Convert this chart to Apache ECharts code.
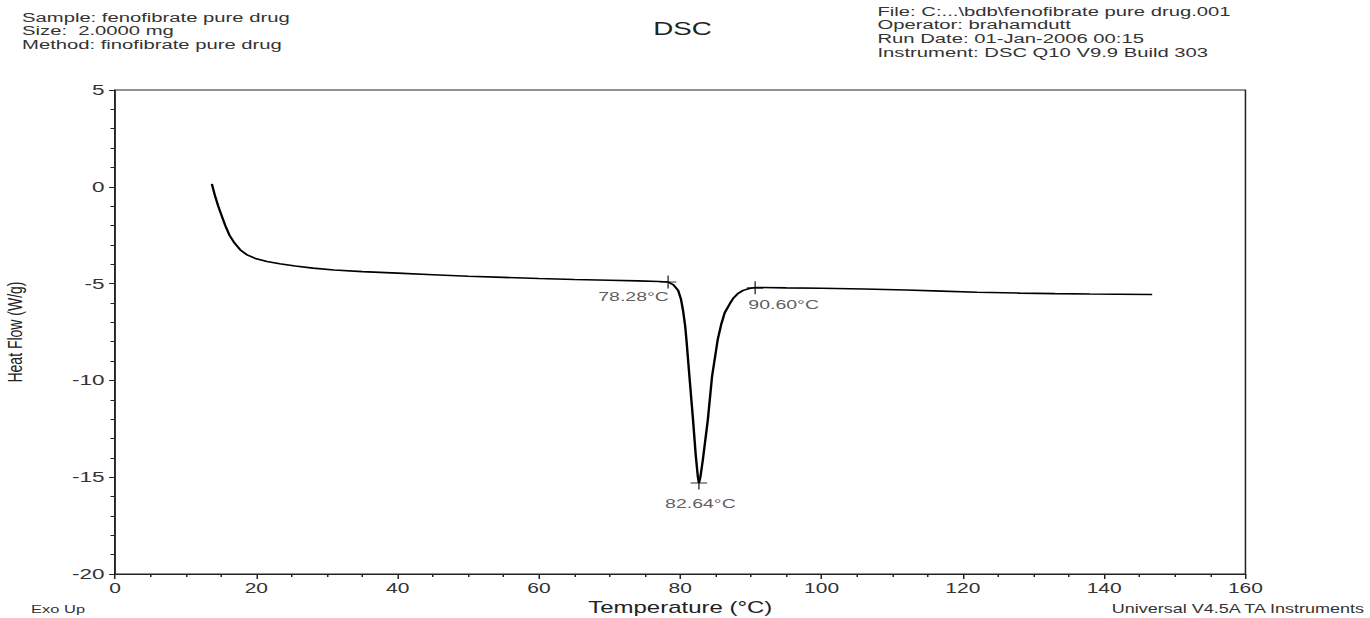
<!DOCTYPE html>
<html>
<head>
<meta charset="utf-8">
<script src="https://cdn.jsdelivr.net/npm/echarts@6/dist/echarts.min.js"></script>
<style>
html,body{margin:0;padding:0;background:#fff;overflow:hidden;}
#chart{width:913.33px;height:618px;transform:scaleX(1.5);transform-origin:0 0;}
</style>
</head>
<body>
<div id="chart"></div>
<script>
// ---- data ----
const temperature = [13.7,14.1,14.6,15.1,15.6,16.2,16.9,17.7,18.7,20.0,21.5,23.3,25.5,28,31,35,40,45,50,55,60,65,70,74,77,78.28,
  79.0,79.7,80.1,80.4,80.7,80.9,81.3,81.8,82.2,82.5,82.64,82.85,83.2,83.9,84.5,85.3,85.8,86.3,87.0,87.5,88.2,88.9,89.8,90.6,
  95,100,106,112,117,122,128,133,138,142,146.8];
const heatFlow = [0.15,-0.4,-1.0,-1.5,-2.0,-2.5,-2.9,-3.25,-3.52,-3.72,-3.86,-3.97,-4.09,-4.2,-4.3,-4.38,-4.46,-4.54,-4.62,-4.68,-4.74,-4.79,-4.83,-4.86,-4.89,-4.92,
  -5.05,-5.35,-5.8,-6.4,-7.2,-8.0,-9.8,-12.0,-13.9,-15.0,-15.3,-15.0,-14.1,-12.05,-9.8,-7.9,-7.1,-6.5,-6.05,-5.76,-5.5,-5.35,-5.25,-5.2,
  -5.22,-5.24,-5.28,-5.33,-5.39,-5.45,-5.49,-5.52,-5.54,-5.55,-5.56];
const eventTemps = [78.28, 82.64, 90.60];
const eventFlows = [-4.92, -15.3, -5.22];
const headerLeft = ['Sample: fenofibrate pure drug', 'Size:  2.0000 mg', 'Method: finofibrate pure drug'];
const headerRight = ['File: C:...\\bdb\\fenofibrate pure drug.001', 'Operator: brahamdutt', 'Run Date: 01-Jan-2006 00:15', 'Instrument: DSC Q10 V9.9 Build 303'];
const chartTitle = 'DSC';
const xName = 'Temperature (\u00B0C)';
const yName = 'Heat Flow (W/g)';
const footLeft = 'Exo Up';
const footRight = 'Universal V4.5A TA Instruments';

// ---- layout / style (not data) ----
const FONT = '"Liberation Sans", Arial, sans-serif';
const labelOffsets = [[-23, 15], [1, 21], [19, 17]];

const curve = temperature.map((t, i) => [t, heatFlow[i]]);
const events = eventTemps.map((t, i) => ({
  value: [t, eventFlows[i]],
  label: { offset: labelOffsets[i] }
}));

const chart = echarts.init(document.getElementById('chart'), null, { renderer: 'svg' });
chart.setOption({
  animation: false,
  backgroundColor: '#fff',
  grid: { left: 76.7, right: 82.7, top: 90, bottom: 44, containLabel: false, outerBoundsMode: 'none',
          show: true, borderColor: '#222', borderWidth: 1, backgroundColor: 'transparent' },
  xAxis: {
    type: 'value', min: 0, max: 160, interval: 20,
    name: xName, nameLocation: 'middle', nameGap: 25,
    nameTextStyle: { fontFamily: FONT, fontSize: 16, color: '#222' },
    axisLine: { show: true, onZero: false, lineStyle: { color: '#222', width: 1 } },
    axisTick: { show: true, length: 5, lineStyle: { color: '#222' } },
    minorTick: { show: true, splitNumber: 4, length: 3, lineStyle: { color: '#222' } },
    axisLabel: { fontFamily: FONT, fontSize: 14, color: '#333', margin: 7 },
    splitLine: { show: false }
  },
  yAxis: {
    type: 'value', min: -20, max: 5, interval: 5,
    name: yName, nameLocation: 'middle', nameGap: 60, nameRotate: 90,
    nameTextStyle: { fontFamily: FONT, fontSize: 14, color: '#222' },
    axisLine: { show: true, onZero: false, lineStyle: { color: '#222', width: 1 } },
    axisTick: { show: true, length: 4, lineStyle: { color: '#222' } },
    minorTick: { show: true, splitNumber: 5, length: 3, lineStyle: { color: '#222' } },
    axisLabel: { fontFamily: FONT, fontSize: 15, color: '#333', margin: 7 },
    splitLine: { show: false }
  },
  series: [
    {
      type: 'line', data: curve, showSymbol: false, smooth: false,
      lineStyle: { color: '#000', width: 1.6 }, z: 2
    },
    {
      type: 'scatter', data: events,
      symbol: 'path://M0,5L10,5M5,0L5,10', symbolSize: [11, 13],
      itemStyle: { color: 'transparent', borderColor: '#000', borderWidth: 1 },
      label: {
        show: true, position: 'inside', fontFamily: FONT, fontSize: 13, color: '#333',
        formatter: p => p.value[0].toFixed(2) + '\u00B0C'
      },
      z: 3
    }
  ],
  graphic: [
    { type: 'text', left: 14.7, top: 10, style: { text: headerLeft.join('\n'), font: '13.5px ' + FONT, lineHeight: 13.8, fill: '#333' } },
    { type: 'text', left: 585, top: 4, style: { text: headerRight.join('\n'), font: '13.5px ' + FONT, lineHeight: 13.6, fill: '#333' } },
    { type: 'text', x: 455, y: 19, style: { text: chartTitle, font: '18.5px ' + FONT, fill: '#222', align: 'center' } },
    { type: 'text', left: 20.7, top: 604, style: { text: footLeft, font: '11px ' + FONT, fill: '#333' } },
    { type: 'text', right: 2, top: 603, style: { text: footRight, font: '12px ' + FONT, fill: '#333' } }
  ]
});
</script>
</body>
</html>
